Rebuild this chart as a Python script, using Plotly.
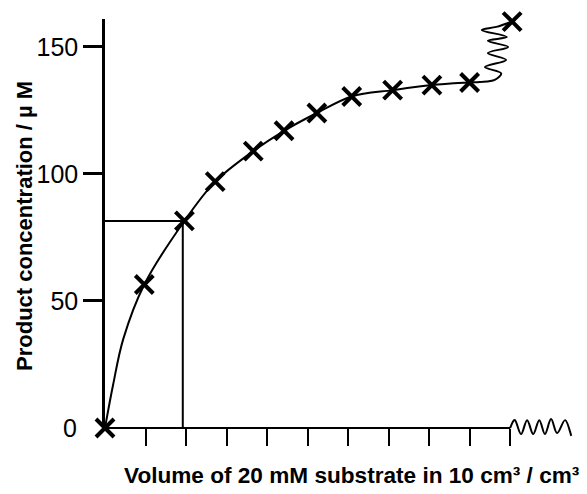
import plotly.graph_objects as go

# ---- data ----
volume = [0, 0.97, 1.96, 2.72, 3.66, 4.42, 5.23, 6.09, 7.10, 8.07, 9.00, 10.05]
product = [0, 56.5, 81.5, 97, 109, 117, 124, 130.5, 133, 135, 136, 160]

# hand-drawn line of best fit (ends in a break squiggle up to the last point)
fit_x = [0, 0.2, 0.45, 0.97, 1.96, 2.72, 3.66,
         4.42, 5.23, 6.09, 7.10, 8.07, 9.00, 9.25,
         9.62, 9.78, 9.38, 9.90, 9.45, 9.95, 9.45, 9.92, 9.30, 9.66, 10.05]
fit_y = [0, 17, 35, 56.5, 81.5, 97, 109,
         117, 124, 130.5, 133, 135, 136, 136.2,
         137, 139.6, 142.1, 144.9, 147.6, 150, 152.4, 153.9, 156.7, 157.9, 160]

# reading guide at volume 2
guide_x = 1.92
guide_y = 81.5

# x-axis break squiggle after the last tick (y in µM units)
brk_x = [10, 10.12, 10.27, 10.42, 10.57, 10.72, 10.86, 11.01, 11.16, 11.36, 11.51]
brk_y = [0, 3.1, -2.4, 3.1, -2.4, 3.1, -2.4, 3.5, -2.0, 3.1, -3.1]

x_ticks = [1, 2, 3, 4, 5, 6, 7, 8, 9, 10]
y_ticks = [50, 100, 150]
y_tick_text = ["50", "100", "150"]

X_RANGE = [0, 11.75]
Y_RANGE = [0, 161]

FONT = "Liberation Sans, Arial, sans-serif"

fig = go.Figure()

fig.add_trace(go.Scatter(
    x=fit_x, y=fit_y, mode="lines",
    line=dict(color="black", width=2, shape="spline", smoothing=1.0),
    hoverinfo="skip", showlegend=False, cliponaxis=False))

fig.add_trace(go.Scatter(
    x=[0, guide_x, guide_x], y=[guide_y, guide_y, 0], mode="lines",
    line=dict(color="black", width=2),
    hoverinfo="skip", showlegend=False))

fig.add_trace(go.Scatter(
    x=volume, y=product, mode="markers",
    marker=dict(symbol="x-thin", size=18, color="black",
                line=dict(color="black", width=4)),
    showlegend=False, cliponaxis=False))

# x-axis line (stops at the last tick) and its break squiggle
shapes = [dict(type="line", xref="x", yref="paper", x0=0, x1=10, y0=0, y1=0,
               line=dict(color="black", width=2))]


def smooth_path(xs, ys):
    pts = list(zip(xs, [v / (Y_RANGE[1] - Y_RANGE[0]) for v in ys]))
    d = "M{},{}".format(*pts[0])
    for i in range(len(pts) - 1):
        p0 = pts[i - 1] if i > 0 else pts[i]
        p1 = pts[i]
        p2 = pts[i + 1]
        p3 = pts[i + 2] if i + 2 < len(pts) else p2
        c1 = (p1[0] + (p2[0] - p0[0]) / 6, p1[1] + (p2[1] - p0[1]) / 6)
        c2 = (p2[0] - (p3[0] - p1[0]) / 6, p2[1] - (p3[1] - p1[1]) / 6)
        d += " C{:.4f},{:.5f} {:.4f},{:.5f} {:.4f},{:.5f}".format(
            c1[0], c1[1], c2[0], c2[1], p2[0], p2[1])
    return d


shapes.append(dict(type="path", xref="x", yref="paper",
                   path=smooth_path(brk_x, brk_y),
                   line=dict(color="black", width=2)))

fig.update_layout(
    width=587, height=494,
    margin=dict(l=97, r=14, t=11, b=74),
    paper_bgcolor="white", plot_bgcolor="white",
    font=dict(family=FONT, color="black"),
    shapes=shapes,
    xaxis=dict(range=X_RANGE, showline=False, showgrid=False, zeroline=False,
               tickvals=x_ticks, ticks="outside", ticklen=17, tickwidth=2,
               tickcolor="black", showticklabels=False, fixedrange=True),
    yaxis=dict(range=Y_RANGE, showline=True, linecolor="black", linewidth=2.5,
               showgrid=False, zeroline=False,
               tickvals=y_ticks, ticktext=y_tick_text, ticks="outside",
               ticklen=19, tickwidth=2.5, tickcolor="black",
               tickfont=dict(family=FONT, size=25, color="black"),
               fixedrange=True),
    annotations=[
        dict(text="0", xref="paper", yref="y", x=-0.055, y=0,
             xanchor="right", yanchor="middle", showarrow=False,
             font=dict(family=FONT, size=25, color="black")),
        dict(text="Volume of 20 mM substrate in 10 cm³ / cm³",
             xref="paper", yref="paper", x=0.519, y=-0.115,
             xanchor="center", yanchor="middle", showarrow=False,
             font=dict(family=FONT, size=22.6, color="black", weight="bold")),
        dict(text="Product concentration / µ M",
             xref="paper", yref="paper", x=-0.168, y=0.494, textangle=-90,
             xanchor="center", yanchor="middle", showarrow=False,
             font=dict(family=FONT, size=22, color="black", weight="bold")),
        dict(text="y", xref="paper", yref="paper", x=0.1156, y=1.024,
             xanchor="center", yanchor="bottom", showarrow=False,
             font=dict(family=FONT, size=22, color="black")),
    ],
)

fig.write_html("out.html")
